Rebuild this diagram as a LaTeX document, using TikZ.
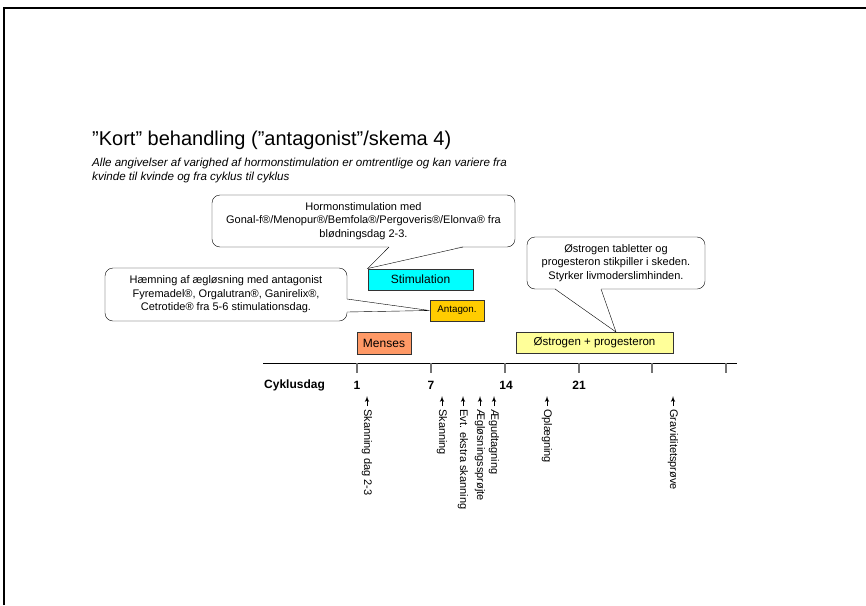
\documentclass[tikz,border=0pt]{standalone}
\usepackage{fontspec}
\setmainfont{Liberation Sans}
\usetikzlibrary{arrows}
\definecolor{stimcol}{RGB}{0,255,255}
\definecolor{antcol}{RGB}{255,204,0}
\definecolor{mencol}{RGB}{255,153,102}
\definecolor{oescol}{RGB}{255,255,153}
\tikzset{
    phase/.style={draw=black!80,line width=0.9pt,inner sep=0,font=\fontsize{12}{14}\selectfont},
    callout/.style={draw,rounded corners=8pt,align=center,inner sep=0,font=\fontsize{11}{13.6}\selectfont},
    event/.style={rotate=-90,anchor=west,inner sep=0,font=\fontsize{11}{13}\selectfont},
    daylbl/.style={inner sep=0,font=\bfseries\fontsize{12}{14}\selectfont},
    edge/.style={->,> = latex',line width=1pt}
}

\begin{document}
\begin{tikzpicture}[x=1pt,y=-1pt]
\useasboundingbox (0,0) rectangle (866,605);
\draw[line width=2pt] (4,605) -- (4,8) -- (866,8);

% overskrift
\node[anchor=base west,inner sep=0,font=\fontsize{20}{22}\selectfont] (title) at (92,145)
    {”Kort” behandling (”antagonist”/skema 4)};
\node[anchor=base west,inner sep=0,align=left,font=\itshape\fontsize{11.6}{14.5}\selectfont] (note) at (92,180.5)
    {Alle angivelser af varighed af hormonstimulation er omtrentlige og kan variere fra\\
     kvinde til kvinde og fra cyklus til cyklus};

% faser
\node[phase,fill=stimcol,minimum width=105,minimum height=21] (stim) at (420.5,279.5) {Stimulation};
\node[phase,fill=antcol,minimum width=54,minimum height=21,font=\fontsize{9.8}{11}\selectfont] (antag) at (457,310.5) {Antagon.};
\node[phase,fill=mencol,minimum width=54,minimum height=22] (mens) at (384,343) {Menses};
\node[phase,fill=oescol,minimum width=157,minimum height=21,font=\fontsize{11.5}{13}\selectfont] (oest) at (594.5,342.5) {Østrogen + progesteron};

% bobler
\node[callout,minimum width=303,minimum height=52] (horm) at (363.5,221)
    {Hormonstimulation med\\Gonal-f®/Menopur®/Bemfola®/Pergoveris®/Elonva® fra\\blødningsdag 2-3.};
\node[callout,minimum width=242,minimum height=53] (haem) at (226,294.5)
    {Hæmning af ægløsning med antagonist\\Fyremadel®, Orgalutran®, Ganirelix®,\\Cetrotide® fra 5-6 stimulationsdag.};
\node[callout,minimum width=178,minimum height=52] (oestxt) at (616,263)
    {Østrogen tabletter og\\progesteron stikpiller i skeden.\\Styrker livmoderslimhinden.};

\coordinate (hormA) at (389,247);
\coordinate (hormB) at (463,247);
\coordinate (haemA) at (347,299);
\coordinate (haemB) at (347,312);
\coordinate (oesA) at (555,289);
\coordinate (oesB) at (601,289);
\coordinate (oestip) at (616,332);

\fill[white] ([yshift=1pt]hormA) -- (stim.north west) -- ([yshift=1pt]hormB) -- cycle;
\draw (hormA) -- (stim.north west) -- (hormB);
\fill[white] ([xshift=-1pt]haemA) -- (antag.west) -- ([xshift=-1pt]haemB) -- cycle;
\draw (haemA) -- (antag.west) -- (haemB);
\fill[white] ([yshift=1pt]oesA) -- (oestip) -- ([yshift=1pt]oesB) -- cycle;
\draw (oesA) -- (oestip) -- (oesB);

% tidsakse
\draw (263,363) -- (737,363);
\foreach \x in {357,431,505,579,652,726}
    \draw[black!55,line width=1.3pt] (\x,363) -- (\x,373);
\node[daylbl,anchor=west] (cyk) at (264,385) {Cyklusdag};
\node[daylbl] (d1) at (357,385) {1};
\node[daylbl] (d7) at (431,385) {7};
\node[daylbl] (d14) at (506,385) {14};
\node[daylbl] (d21) at (579,385) {21};

% begivenheder
\node[event] (e1) at (367,409) {Skanning dag 2-3};
\node[event] (e2) at (442,409) {Skanning};
\node[event] (e3) at (463,409) {Evt. ekstra skanning};
\node[event] (e4) at (480,409) {Ægløsningssprøjte};
\node[event] (e5) at (494,409) {Ægudtagning};
\node[event] (e6) at (547,409) {Oplægning};
\node[event] (e7) at (673,409) {Graviditetsprøve};
\foreach \e in {e1,e2,e3,e4,e5,e6,e7}
    \draw[edge] ([yshift=3pt]\e.west) -- ++(0,-10);

\end{tikzpicture}
\end{document}
